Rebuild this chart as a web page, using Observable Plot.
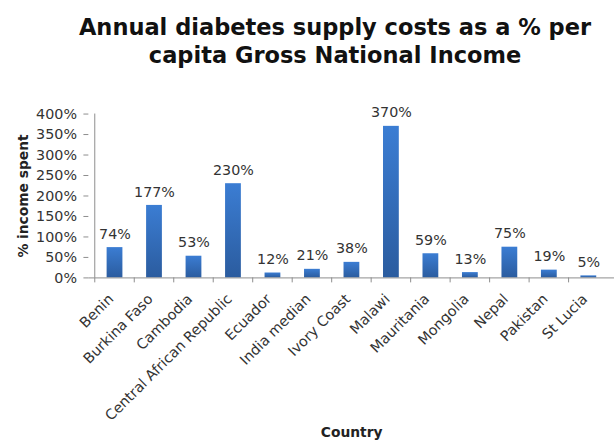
<!DOCTYPE html>
<html>
<head>
<meta charset="utf-8">
<script src="https://cdn.jsdelivr.net/npm/d3@7"></script>
<script src="https://cdn.jsdelivr.net/npm/@observablehq/plot@0.6"></script>
<style>
  html, body { margin: 0; padding: 0; background: #fff; overflow: hidden; width: 614px; height: 443px; }
  #title { box-sizing: border-box; height: 80px; padding-top: 13px; padding-left: 56px; text-align: center;
           font-family: "DejaVu Sans", Verdana, sans-serif; font-weight: bold; font-size: 22.5px; line-height: 28px; color: #111; }
  #chart svg { display: block; }
</style>
</head>
<body>
<div id="title">Annual diabetes supply costs as a % per<br>capita Gross National Income</div>
<div id="chart"></div>
<script>
const countries = ["Benin", "Burkina Faso", "Cambodia", "Central African Republic", "Ecuador", "India median",
  "Ivory Coast", "Malawi", "Mauritania", "Mongolia", "Nepal", "Pakistan", "St Lucia"];
const values = [74, 177, 53, 230, 12, 21, 38, 370, 59, 13, 75, 19, 5];
const yTicks = [0, 50, 100, 150, 200, 250, 300, 350, 400];
const yLabel = "% income spent";
const xLabel = "Country";

const data = countries.map((c, i) => ({country: c, value: values[i]}));
const axisColor = "#8c8c8c";
const textColor = "#333";

const chart = Plot.plot({
  width: 622,
  height: 363,
  marginTop: 34,
  marginBottom: 163,
  marginLeft: 89.5,
  marginRight: 0,
  style: {fontFamily: "DejaVu Sans, Verdana, sans-serif", fontSize: "14px", color: textColor, background: "#fff", overflow: "visible"},
  x: {domain: countries, paddingInner: 0.6, paddingOuter: 0.3, axis: null, label: null},
  y: {domain: [0, 400], axis: null, label: null},
  marks: [
    Plot.barY(data, {x: "country", y: "value", fill: "url(#barGrad)"}),
    Plot.text(data, {x: "country", y: "value", text: d => d.value + "%", dy: -9, lineAnchor: "bottom", fontSize: 14.5, fill: textColor}),
    Plot.axisY({ticks: yTicks, tickFormat: d => d + "%", tickSize: 5, tickPadding: 7, stroke: axisColor, fill: textColor, fontSize: 14.5, label: null}),
    Plot.axisX({tickSize: 5, tickFormat: () => "", dx: -20.5, stroke: axisColor, label: null}),
    Plot.axisX({tickSize: 0, tickPadding: 19, dx: -4, tickRotate: -45, fontSize: 14.5, fill: textColor, label: null}),
    Plot.ruleY([0], {stroke: axisColor}),
    Plot.ruleX([countries[0]], {x: d => d, dx: -20.5, y1: () => 0, y2: () => 400, stroke: axisColor}),
    Plot.text([yLabel], {frameAnchor: "left", textAnchor: "middle", text: d => d, rotate: -90, dx: -66.5, fontWeight: "bold", fontSize: 14, fill: "#222"}),
    Plot.text([xLabel], {frameAnchor: "bottom", textAnchor: "middle", text: d => d, dy: 161, lineAnchor: "bottom", fontWeight: "bold", fontSize: 14, fill: "#222"})
  ]
});

const defs = d3.select(chart).insert("defs", ":first-child");
const grad = defs.append("linearGradient").attr("id", "barGrad").attr("x1", 0).attr("y1", 0).attr("x2", 0).attr("y2", 1);
grad.append("stop").attr("offset", "0%").attr("stop-color", "#3b7dd3");
grad.append("stop").attr("offset", "100%").attr("stop-color", "#2b5c9f");

document.getElementById("chart").appendChild(chart);
</script>
</body>
</html>
